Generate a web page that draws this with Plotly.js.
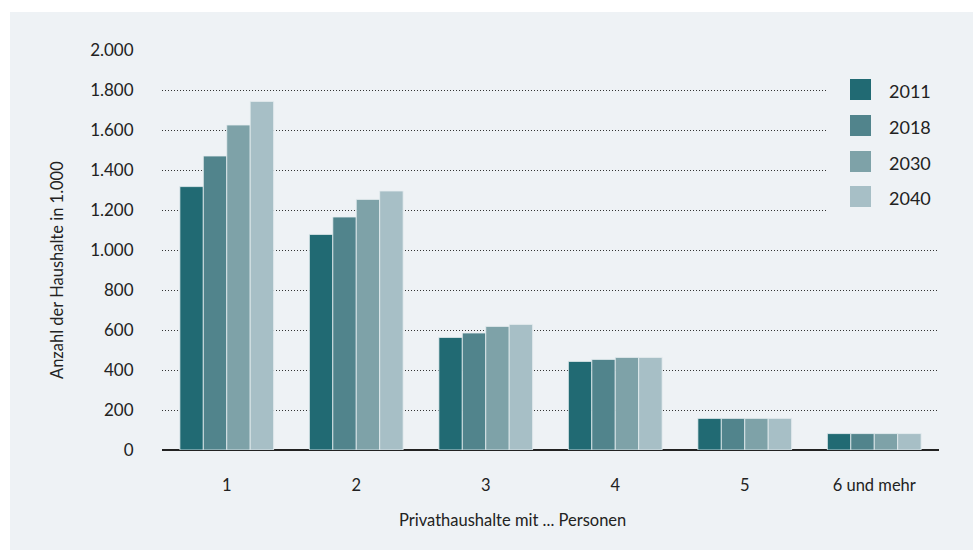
<!DOCTYPE html>
<html>
<head>
<meta charset="utf-8">
<script src="https://cdn.plot.ly/plotly-3.0.1.min.js"></script>
<style>
html,body{margin:0;padding:0;background:#ffffff;}
#chart{width:973px;height:550px;}
</style>
</head>
<body>
<div id="chart"></div>
<script>
const categories = ["1", "2", "3", "4", "5", "6 und mehr"];
const years = ["2011", "2018", "2030", "2040"];
const values2011 = [1317, 1078, 563, 443, 158, 82];
const values2018 = [1470, 1165, 585, 453, 158, 82];
const values2030 = [1625, 1253, 618, 463, 158, 82];
const values2040 = [1743, 1295, 628, 463, 158, 82];
const colors = ["#216a73", "#51848c", "#7ea2a8", "#a7bfc6"];
const yTickVals = [0, 200, 400, 600, 800, 1000, 1200, 1400, 1600, 1800, 2000];
const yTickText = ["0", "200", "400", "600", "800", "1.000", "1.200", "1.400", "1.600", "1.800", "2.000"];

const series = [values2011, values2018, values2030, values2040];
const FONT = "Lato, 'Open Sans', sans-serif";
const PANEL = "#eef2f5";

const traces = series.map((vals, i) => ({
  type: "bar",
  name: years[i],
  x: categories,
  y: vals,
  marker: {color: colors[i], line: {color: "rgba(230,238,240,0.8)", width: 1}},
  showlegend: false,
  hoverinfo: "x+y+name"
}));

// plot area in pixels
const L = 162, R = 34, T = 50, B = 100, W = 973, H = 550;
const pw = W - L - R, ph = H - T - B;
const px = x => (x - L) / pw;
const py = y => (H - B - y) / ph;

const shapes = [{
  type: "rect", xref: "paper", yref: "paper", layer: "below",
  x0: px(10), x1: px(973), y0: py(550), y1: py(12),
  fillcolor: PANEL, line: {width: 0}
}, {
  // legend box background (hides grid behind legend)
  type: "rect", xref: "paper", yref: "paper",
  x0: px(826), x1: px(950), y0: py(235), y1: py(62),
  fillcolor: PANEL, line: {width: 0}
}];
const annotations = [];

// custom legend
const legendCenters = [89.5, 125.5, 161.5, 196.5];
years.forEach((yr, i) => {
  const cy = legendCenters[i];
  shapes.push({
    type: "rect", xref: "paper", yref: "paper",
    x0: px(850), x1: px(871), y0: py(cy + 10.5), y1: py(cy - 10.5),
    fillcolor: colors[i], line: {width: 0}
  });
  annotations.push({
    xref: "paper", yref: "paper", x: px(887), y: py(cy + 1.5),
    xanchor: "left", yanchor: "middle", showarrow: false,
    text: yr, font: {family: FONT, size: 18, color: "#222"}
  });
});

annotations.push({
  xref: "paper", yref: "paper", x: px(57), y: py(270),
  textangle: -90, xanchor: "center", yanchor: "middle", showarrow: false,
  text: "Anzahl der Haushalte in 1.000", font: {family: FONT, size: 16.5, color: "#222"}
});
annotations.push({
  xref: "paper", yref: "paper", x: px(512), y: py(520),
  xanchor: "center", yanchor: "middle", showarrow: false,
  text: "Privathaushalte mit ... Personen", font: {family: FONT, size: 16.5, color: "#222"}
});

const layout = {
  width: W, height: H,
  margin: {l: L, r: R, t: T, b: B, pad: 0},
  paper_bgcolor: "#ffffff",
  plot_bgcolor: "rgba(0,0,0,0)",
  barmode: "group",
  bargap: 0.276,
  bargroupgap: 0,
  showlegend: false,
  font: {family: FONT, size: 17, color: "#222"},
  xaxis: {
    type: "category",
    tickvals: categories, ticktext: categories,
    ticks: "outside", ticklen: 20, tickcolor: "rgba(0,0,0,0)",
    showgrid: false, zeroline: false, showline: false,
    tickfont: {family: FONT, size: 16.5, color: "#222"},
    fixedrange: true
  },
  yaxis: {
    range: [0, 2000],
    tickvals: yTickVals, ticktext: yTickText,
    ticks: "outside", ticklen: 24, tickcolor: "rgba(0,0,0,0)",
    showgrid: true, gridcolor: "#333", griddash: "1px,2px", gridwidth: 1,
    zeroline: true, zerolinecolor: "#222", zerolinewidth: 2,
    showline: false,
    tickfont: {family: FONT, size: 17, color: "#222"},
    fixedrange: true
  },
  shapes: shapes,
  annotations: annotations
};

Plotly.newPlot("chart", traces, layout, {displayModeBar: false, staticPlot: true});
</script>
</body>
</html>
